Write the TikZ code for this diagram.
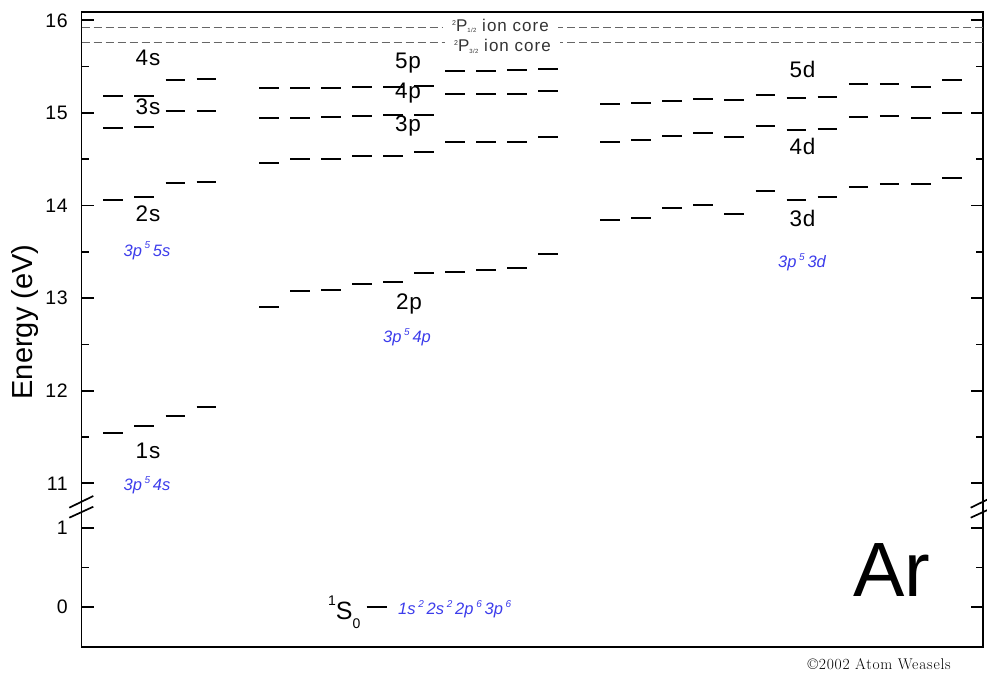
\documentclass[tikz,border=0pt]{standalone}
\usepackage{fontspec}
\setsansfont{Liberation Sans}
\newfontfamily\lblfont[LetterSpace=4]{Liberation Sans}
\newfontfamily\corefont[LetterSpace=6]{Liberation Sans}
\newfontfamily\credfont[LetterSpace=5]{Latin Modern Roman}
\usepackage{xcolor}
\definecolor{cfgBlue}{RGB}{60,60,235}
\definecolor{coreGray}{gray}{0.40}
\usepackage{tikz}
\newcommand{\upn}[1]{\,\raisebox{7pt}{\fontsize{10}{10}\selectfont #1}\,}

\begin{document}
\begin{tikzpicture}[x=1pt, y=1pt,
    axis/.style={line width=1.7pt},
    lvl/.style={line width=2pt},
    core/.style={coreGray, line width=0.9pt, dash pattern=on 8pt off 4pt},
    lbl/.style={font=\lblfont\fontsize{22.5}{22.5}\selectfont, anchor=base, inner sep=0pt},
    cfg/.style={font=\sffamily\itshape\fontsize{16.5}{16.5}\selectfont, text=cfgBlue, anchor=base, inner sep=0pt},
    ticklbl/.style={font=\lblfont\fontsize{19.5}{19.5}\selectfont, anchor=east, inner sep=0pt},
    corelbl/.style={font=\corefont\fontsize{17}{17}\selectfont, text=black!80, anchor=base west, inner xsep=9pt, inner ysep=0pt}]
  \useasboundingbox (0,0) rectangle (987,673);
  % ------- frame and axis breaks -------
  \draw[axis] (81.5,26.3) rectangle (982.7,661);
  \draw[axis] (69.3,165.3) -- (93.3,177);
  \draw[axis] (69.3,155.3) -- (93.3,166.3);
  \draw[axis] (970.7,165.3) -- (994.7,177);
  \draw[axis] (970.7,155.3) -- (994.7,166.3);
  \node[font=\sffamily\fontsize{29}{29}\selectfont, rotate=90] (ylab) at (25.5,351) {Energy (eV)};
  % ------- upper scale: excited levels, 11--16 eV -------
  \begin{scope}[y=92.6pt, yshift=-828.9pt]
    \foreach \e in {11,...,16} {
      \draw[axis] (81.5,\e) -- ++(12,0);
      \draw[axis] (982.7,\e) -- ++(-12,0);
      \node[ticklbl] (t\e) at (68,\e) {\e};
    }
    \foreach \e in {11.5,12.5,...,15.5} {
      \draw[axis] (81.5,\e) -- ++(7,0);
      \draw[axis] (982.7,\e) -- ++(-7,0);
    }
    % s levels
    \foreach \e [count=\i from 0] in {11.548,11.624,11.723,11.828}
      \draw[lvl] ({103.3+31.1*\i},\e) -- ++(19.5,0);
    \foreach \e [count=\i from 0] in {14.063,14.087,14.244,14.255}
      \draw[lvl] ({103.3+31.1*\i},\e) -- ++(19.5,0);
    \foreach \e [count=\i from 0] in {14.836,14.848,15.016,15.025}
      \draw[lvl] ({103.3+31.1*\i},\e) -- ++(19.5,0);
    \foreach \e [count=\i from 0] in {15.178,15.185,15.360,15.363}
      \draw[lvl] ({103.3+31.1*\i},\e) -- ++(19.5,0);
    % p levels
    \foreach \e [count=\i from 0] in {12.907,13.076,13.087,13.152,13.171,13.274,13.279,13.300,13.325,13.479}
      \draw[lvl] ({259+31*\i},\e) -- ++(19.5,0);
    \foreach \e [count=\i from 0] in {14.464,14.499,14.506,14.530,14.534,14.581,14.681,14.689,14.690,14.743}
      \draw[lvl] ({259+31*\i},\e) -- ++(19.5,0);
    \foreach \e [count=\i from 0] in {14.940,14.942,14.952,14.970,14.972,14.981,15.204,15.206,15.208,15.240}
      \draw[lvl] ({259+31*\i},\e) -- ++(19.5,0);
    \foreach \e [count=\i from 0] in {15.266,15.268,15.270,15.276,15.278,15.290,15.456,15.457,15.458,15.471}
      \draw[lvl] ({259+31*\i},\e) -- ++(19.5,0);
    % d levels
    \foreach \e [count=\i from 0] in {13.840,13.862,13.970,14.005,13.905,14.153,14.063,14.095,14.203,14.232,14.232,14.294}
      \draw[lvl] ({600+31.1*\i},\e) -- ++(19.5,0);
    \foreach \e [count=\i from 0] in {14.686,14.708,14.754,14.780,14.743,14.855,14.813,14.826,14.959,14.967,14.945,15.002}
      \draw[lvl] ({600+31.1*\i},\e) -- ++(19.5,0);
    \foreach \e [count=\i from 0] in {15.099,15.110,15.125,15.147,15.136,15.190,15.163,15.172,15.309,15.309,15.283,15.352}
      \draw[lvl] ({600+31.1*\i},\e) -- ++(19.5,0);
  \end{scope}
  % ------- lower scale: ground state, 0--1 eV -------
  \begin{scope}[y=79.3pt, yshift=66pt]
    \foreach \e in {0,1} {
      \draw[axis] (81.5,\e) -- ++(12,0);
      \draw[axis] (982.7,\e) -- ++(-12,0);
      \node[ticklbl] (b\e) at (68,\e) {\e};
    }
    \draw[axis] (81.5,0.5) -- ++(7,0);
    \draw[axis] (982.7,0.5) -- ++(-7,0);
    \draw[lvl] (366.7,0) -- ++(20,0);
  \end{scope}
  % ------- ion core limits -------
  \node[corelbl] (core12) at (443,641.3)
    {\raisebox{6pt}{\fontsize{7}{7}\selectfont 2}P\raisebox{-1pt}{\fontsize{6}{6}\selectfont 1/2} ion core};
  \node[corelbl] (core32) at (445,621.3)
    {\raisebox{6pt}{\fontsize{7}{7}\selectfont 2}P\raisebox{-2pt}{\fontsize{6}{6}\selectfont 3/2} ion core};
  \coordinate (p12L) at (81.5,645.7);
  \coordinate (p12R) at (982.7,645.7);
  \coordinate (p32L) at (81.5,630.3);
  \coordinate (p32R) at (982.7,630.3);
  \draw[core] (p12L) -- (p12L -| core12.west);
  \draw[core] (p12R) -- (p12R -| core12.east);
  \draw[core] (p32L) -- (p32L -| core32.west);
  \draw[core] (p32R) -- (p32R -| core32.east);
  % ------- level names and configurations -------
  \node[lbl] (n4s) at (148,607) {4s};
  \node[lbl] (n3s) at (148,558) {3s};
  \node[lbl] (n2s) at (148,451.3) {2s};
  \node[lbl] (n1s) at (148,215) {1s};
  \node[cfg] (c5s) at (147,417) {3p\upn{5}5s};
  \node[cfg] (c4s) at (147,183) {3p\upn{5}4s};
  \node[lbl] (n5p) at (408,604.7) {5p};
  \node[lbl] (n4p) at (408,574.7) {4p};
  \node[lbl] (n3p) at (408,541.3) {3p};
  \node[lbl] (n2p) at (409,363) {2p};
  \node[cfg] (c4p) at (407,331) {3p\upn{5}4p};
  \node[lbl] (n5d) at (802.5,595.3) {5d};
  \node[lbl] (n4d) at (802.5,518) {4d};
  \node[lbl] (n3d) at (802.5,446) {3d};
  \node[cfg] (c3d) at (802,405) {3p\upn{5}3d};
  % ground state
  \node[font=\sffamily\fontsize{25}{25}\selectfont, anchor=base west, inner sep=0pt] (gnd) at (328,53.7)
    {\raisebox{14pt}{\fontsize{14}{14}\selectfont 1}S\raisebox{-9pt}{\fontsize{14}{14}\selectfont 0}};
  \node[cfg, anchor=base west] (cgnd) at (398,59) {1s\upn{2}2s\upn{2}2p\upn{6}3p\upn{6}};
  % ------- element and credit -------
  \node[font=\sffamily\fontsize{77}{77}\selectfont, anchor=base west, inner sep=0pt] (elem) at (853,76.3) {Ar};
  \node[font=\credfont\fontsize{15.5}{15.5}\selectfont, anchor=base east, inner sep=0pt] (credit) at (951,4) {©2002 Atom Weasels};
\end{tikzpicture}
\end{document}
